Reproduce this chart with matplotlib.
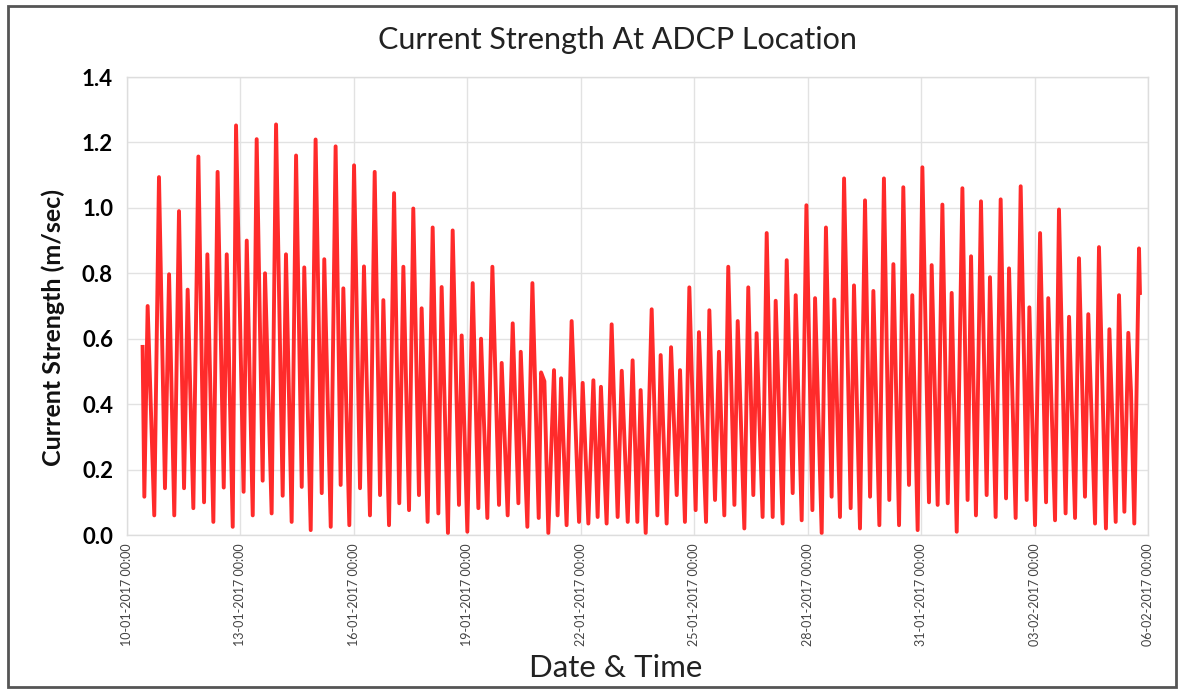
import matplotlib
matplotlib.use("Agg")
import matplotlib.pyplot as plt
import matplotlib.dates as mdates
from matplotlib.patches import Rectangle
import datetime as dt

# ---- data: hours after 10-01-2017 00:00, current strength m/s ----
hours_a = [9.9, 11.0, 13.1, 17.3, 20.3, 24.1, 26.7, 30.0, 33.0, 36.2, 38.5, 42.1, 45.3, 48.9, 51.0,
           54.8, 57.5, 61.4, 63.3, 67.1, 69.2, 74.0, 76.0, 79.8, 82.3, 86.1, 87.6, 91.8, 94.6, 98.8,
           100.9, 104.5, 107.3,
           110.9, 112.5, 116.6, 119.7, 123.6, 125.2, 129.3, 132.4, 135.6, 137.3, 141.1, 144.1, 147.9,
           150.4, 154.2, 157.2, 160.6, 162.7, 166.3, 169.5, 172.8, 175.4, 179.0, 181.7, 185.3, 187.0,
           190.8, 194.0, 197.6, 199.7, 203.7, 206.7, 210.7, 212.4,
           216.0, 219.4, 223.0, 224.7, 228.7, 231.9, 236.1, 237.8, 241.6, 244.8, 248.4, 249.9, 254.1,
           257.3, 261.3, 262.8, 264.9, 267.4, 271.0, 273.3, 275.5, 279.0, 282.2, 286.9, 289.2, 292.8,
           296.0, 298.7, 300.8, 304.4, 307.6, 311.4, 314.0, 317.8, 320.9]
speed_a = [0.575, 0.117, 0.70, 0.06, 1.094, 0.143, 0.797, 0.06, 0.99, 0.143, 0.75, 0.082, 1.157, 0.10, 0.858,
           0.04, 1.11, 0.145, 0.858, 0.025, 1.252, 0.132, 0.90, 0.06, 1.21, 0.166, 0.80, 0.066, 1.255, 0.12,
           0.858, 0.04, 1.16,
           0.147, 0.818, 0.015, 1.209, 0.128, 0.843, 0.025, 1.188, 0.153, 0.754, 0.03, 1.13, 0.143,
           0.821, 0.06, 1.11, 0.122, 0.718, 0.03, 1.045, 0.097, 0.82, 0.076, 0.998, 0.122, 0.693,
           0.04, 0.94, 0.066, 0.758, 0.006, 0.931, 0.092, 0.61,
           0.01, 0.77, 0.082, 0.60, 0.052, 0.82, 0.092, 0.526, 0.06, 0.647, 0.097, 0.56, 0.025,
           0.77, 0.052, 0.497, 0.47, 0.006, 0.504, 0.06, 0.479, 0.03, 0.654, 0.04, 0.465, 0.035,
           0.473, 0.055, 0.453, 0.035, 0.644, 0.055, 0.502, 0.04, 0.534]

hours_b = [323.9, 326.0, 329.2, 333.0, 336.6, 338.7, 342.5, 345.3, 348.9, 351.0, 354.1, 356.9, 360.9,
           363.0, 367.5, 369.6, 373.2, 375.7, 379.1, 381.6, 385.5, 387.6, 391.8, 394.3, 397.5, 399.6,
           403.4, 406.0, 409.8, 411.7, 416.1, 418.7, 422.5, 424.4, 428.2, 431.2,
           435.0, 436.7, 440.9, 443.6, 447.2, 448.9, 452.5, 455.1, 459.3, 461.4, 465.2, 468.4, 471.6,
           473.7, 477.5, 480.4, 483.8, 486.4, 490.0, 492.7, 496.3, 498.4, 501.8, 504.8, 509.0, 510.7,
           514.5, 517.5, 520.9, 523.4, 526.6, 530.2, 533.5, 535.7,
           538.8, 542.0, 545.6, 547.7, 551.3, 554.5, 557.9, 559.8, 564.0, 567.2, 571.0, 572.7, 576.3,
           579.5, 583.3, 584.7, 589.0, 591.5, 595.7, 597.9, 601.7, 604.2, 608.0, 610.1, 614.4, 616.9,
           621.3, 623.5, 627.5, 629.6, 633.0, 635.5, 637.2, 639.3, 642.3, 642.9]
speed_b = [0.04, 0.443, 0.006, 0.69, 0.06, 0.55, 0.035, 0.574, 0.122, 0.504, 0.04, 0.757, 0.076,
           0.62, 0.04, 0.687, 0.107, 0.56, 0.06, 0.82, 0.092, 0.654, 0.02, 0.757, 0.122, 0.617,
           0.055, 0.923, 0.055, 0.716, 0.035, 0.84, 0.128, 0.733, 0.045, 1.008,
           0.076, 0.724, 0.006, 0.94, 0.117, 0.72, 0.055, 1.09, 0.082, 0.763, 0.02, 1.023, 0.117,
           0.746, 0.03, 1.09, 0.107, 0.828, 0.03, 1.063, 0.153, 0.733, 0.015, 1.124, 0.10, 0.825,
           0.092, 1.01, 0.097, 0.74, 0.01, 1.06, 0.107, 0.852,
           0.06, 1.02, 0.122, 0.788, 0.055, 1.026, 0.112, 0.815, 0.052, 1.066, 0.107, 0.696, 0.03,
           0.923, 0.10, 0.724, 0.045, 0.995, 0.066, 0.667, 0.052, 0.846, 0.117, 0.675, 0.035, 0.88,
           0.02, 0.629, 0.04, 0.733, 0.071, 0.618, 0.44, 0.035, 0.876, 0.74]

tick_dates = ["10-01-2017", "13-01-2017", "16-01-2017", "19-01-2017", "22-01-2017",
              "25-01-2017", "28-01-2017", "31-01-2017", "03-02-2017", "06-02-2017"]
y_ticks = [0.0, 0.2, 0.4, 0.6, 0.8, 1.0, 1.2, 1.4]

title = "Current Strength At ADCP Location"
xlabel = "Date & Time"
ylabel = "Current Strength (m/sec)"

# ---- build ----
start = dt.datetime(2017, 1, 10)
times = [start + dt.timedelta(hours=h) for h in hours_a + hours_b]
speed = speed_a + speed_b
ticks = [dt.datetime.strptime(d, "%d-%m-%Y") for d in tick_dates]

plt.rcParams["font.family"] = ["Lato", "DejaVu Sans"]

W, H = 1182, 693
fig = plt.figure(figsize=(W / 100, H / 100), dpi=100)
ax = fig.add_axes([127 / W, 1 - 535 / H, (1148 - 127) / W, (535 - 77) / H])

ax.plot(times, speed, color="#ff1f1f", linewidth=2.8, solid_joinstyle="round", alpha=0.95)

ax.set_xlim(ticks[0], ticks[-1])
ax.set_ylim(0, 1.4)
ax.set_xticks(ticks)
ax.xaxis.set_major_formatter(mdates.DateFormatter("%d-%m-%Y %H:%M"))
ax.set_yticks(y_ticks)
ax.set_yticklabels([f"{v:.1f}" for v in y_ticks], fontsize=16, fontweight="bold")
for lab in ax.get_xticklabels():
    lab.set_rotation(90)
    lab.set_fontsize(9)
    lab.set_color("#444444")
ax.tick_params(axis="both", length=0)
ax.tick_params(axis="x", pad=6)
ax.tick_params(axis="y", pad=10)
ax.grid(True, color="#e2e2e2", linewidth=1.0)
ax.set_axisbelow(True)
for s in ax.spines.values():
    s.set_color("#dddddd")
    s.set_linewidth(1.0)

fig.text(617 / W, 1 - 49 / H, title, fontsize=22, color="#222222", ha="center", va="baseline")
fig.text(616 / W, 1 - 677 / H, xlabel, fontsize=22.5, color="#222222", ha="center", va="baseline")
fig.text(53 / W, 1 - 327 / H, ylabel, fontsize=18, fontweight="bold", rotation=90,
         ha="center", va="center", color="#111111")

# outer frame
fig.patches.append(Rectangle((8 / W, 6 / H), 1168 / W, 681 / H, transform=fig.transFigure,
                             fill=False, edgecolor="#555555", linewidth=2))

fig.savefig("out.png", dpi=100)
